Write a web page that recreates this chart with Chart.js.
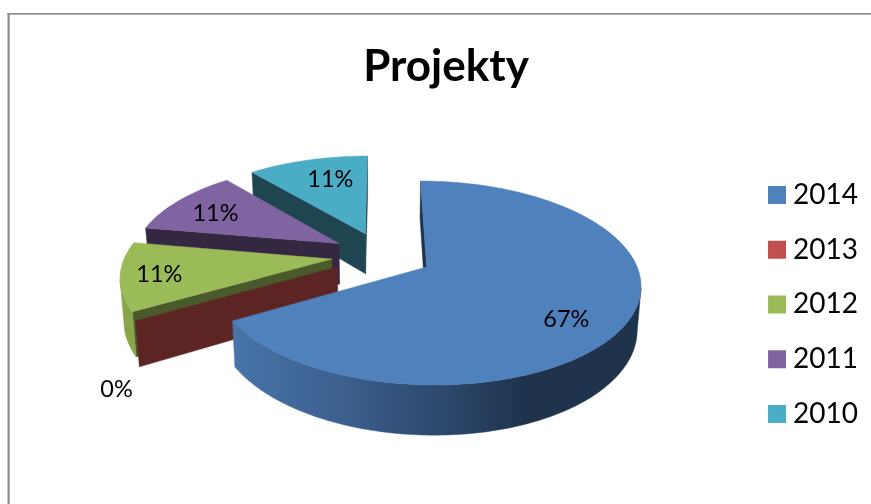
<!DOCTYPE html>
<html>
<head>
<meta charset="utf-8">
<title>Projekty</title>
<style>
  html, body { margin: 0; background: #fff; }
  canvas { display: block; }
</style>
<script src="https://cdn.jsdelivr.net/npm/chart.js@4"></script>
</head>
<body>
<canvas id="myChart" width="871" height="504"></canvas>
<script>
const years = ['2014', '2013', '2012', '2011', '2010']
const projectCounts = [6, 0, 1, 1, 1]
const topColors = ['#4f81bd', '#c0504d', '#9bbb59', '#8064a2', '#4bacc6']
const wallColors = ['#1f3349', '#5c2523', '#4a5a2a', '#342742', '#1f4650']
const rimColors = ['#2f4c70', '#7a3230', '#88a54c', '#5a4672', '#357a8c']

// where the tilted disc sits on the page
const disc = { cx: 382, cy: 255, rx: 206.5, ry: 95.7, k: 0.1545, depth: 41.5, shrink: 0.985 }
// per slice: distance along the middle angle (in radii), then a nudge in px
const labelSpots = [[0.7, 2, 16], [1.1, 3, 63], [0.8, -4, 2], [0.7, -9, 1], [0.7, 7, -1]]

const project = (x, y, lower) => {
  const s = 1 / (1 - disc.k * y)
  const f = lower ? disc.shrink : 1
  return {
    x: disc.cx + disc.rx * x * s * f,
    y: disc.cy + disc.ry * y * s + (lower ? disc.depth * s : 0),
  }
}

const tracePoints = (ctx, pts) => {
  ctx.beginPath()
  pts.forEach((p, i) => i ? ctx.lineTo(p.x, p.y) : ctx.moveTo(p.x, p.y))
  ctx.closePath()
}

const fillPoints = (ctx, pts, color) => {
  tracePoints(ctx, pts)
  ctx.fillStyle = color
  ctx.fill()
  ctx.strokeStyle = color
  ctx.lineWidth = 0.5
  ctx.stroke()
}

// a face can be seen when it looks towards the camera, which sits at (0, 1/k) on the plan
const facesCamera = (x, y, nx, ny) => (0 - x) * nx + (1 / disc.k - y) * ny > 0

const drawSlice = (ctx, arc, index) => {
  const { startAngle, endAngle, outerRadius } = arc
  const mid = (startAngle + endAngle) / 2
  const shift = arc.options.offset / outerRadius
  const ox = Math.cos(mid) * shift
  const oy = Math.sin(mid) * shift
  const rimAt = a => [ox + Math.cos(a), oy + Math.sin(a)]

  const steps = Math.max(2, Math.ceil((endAngle - startAngle) / 0.02))
  const angles = []
  for (let i = 0; i <= steps; i++) angles.push(startAngle + (endAngle - startAngle) * i / steps)

  // flat wall on either cut edge
  const edges = [
    { a: startAngle, nx: Math.sin(startAngle), ny: -Math.cos(startAngle) },
    { a: endAngle, nx: -Math.sin(endAngle), ny: Math.cos(endAngle) },
  ]
  edges.forEach(e => {
    const [ex, ey] = rimAt(e.a)
    if (!facesCamera((ox + ex) / 2, (oy + ey) / 2, e.nx, e.ny)) return
    fillPoints(ctx, [
      project(ox, oy), project(ex, ey),
      project(ex, ey, true), project(ox, oy, true),
    ], wallColors[index])
  })

  // curved rim, only the part turned towards us
  if (endAngle > startAngle) {
    const seen = angles.filter(a => {
      const [x, y] = rimAt(a)
      return facesCamera(x, y, Math.cos(a), Math.sin(a))
    })
    if (seen.length > 1) {
      const upper = seen.map(a => project(...rimAt(a)))
      const lower = seen.map(a => project(...rimAt(a), true)).reverse()
      let paint = rimColors[index]
      if (index === 0) {
        const g = ctx.createLinearGradient(232, 0, 640, 0)
        g.addColorStop(0, '#4874a9')
        g.addColorStop(0.25, '#3d6191')
        g.addColorStop(0.5, '#2d4a6e')
        g.addColorStop(0.72, '#1f334d')
        g.addColorStop(1, '#1f334b')
        paint = g
      }
      fillPoints(ctx, upper.concat(lower), paint)
    }
  }

  // top of the slice
  if (endAngle > startAngle) {
    fillPoints(ctx, [project(ox, oy)].concat(angles.map(a => project(...rimAt(a)))), topColors[index])
  }
}

const pie3d = {
  id: 'pie3d',
  beforeDraw (chart) {
    const { ctx, width, height } = chart
    ctx.save()
    ctx.fillStyle = '#ffffff'
    ctx.fillRect(0, 0, width, height)
    ctx.fillStyle = '#8c8c8c'
    ctx.fillRect(7.5, 13, width, 1.7)
    ctx.fillRect(7.5, 13, 2.2, height)
    ctx.restore()
  },
  beforeDatasetsDraw (chart) {
    const { ctx } = chart
    const arcs = chart.getDatasetMeta(0).data
    const total = projectCounts.reduce((a, b) => a + b, 0)
    ctx.save()
    for (let i = arcs.length - 1; i >= 0; i--) drawSlice(ctx, arcs[i], i)
    ctx.fillStyle = '#000'
    ctx.font = '23.5px Lato'
    ctx.textAlign = 'center'
    ctx.textBaseline = 'middle'
    arcs.forEach((arc, i) => {
      const mid = (arc.startAngle + arc.endAngle) / 2
      const shift = arc.options.offset / arc.outerRadius
      const [f, dx, dy] = labelSpots[i]
      const p = project(Math.cos(mid) * (shift + f), Math.sin(mid) * (shift + f))
      ctx.fillText(Math.round(projectCounts[i] / total * 100) + '%', p.x + dx, p.y + dy)
    })
    ctx.restore()
    return false
  },
}

const pieLegendLabels = Chart.overrides.pie.plugins.legend.labels.generateLabels

var chart = new Chart(document.getElementById('myChart').getContext('2d'), {
  type: 'pie',
  plugins: [pie3d],
  data: {
    labels: years,
    datasets: [{
      data: projectCounts,
      backgroundColor: topColors,
      borderWidth: 0,
      offset: 24.5,
    }],
  },
  options: {
    responsive: false,
    animation: false,
    devicePixelRatio: 1,
    radius: 100,
    layout: { padding: { left: 24, right: 3, top: 0, bottom: 0 } },
    plugins: {
      tooltip: { enabled: false },
      title: {
        display: true,
        text: 'Projekty',
        color: '#000',
        font: { family: 'Lato', size: 44, weight: 'bold', lineHeight: 1.2 },
        padding: { top: 40, bottom: 12 },
      },
      legend: {
        position: 'right',
        fullSize: false,
        labels: {
          color: '#000',
          font: { family: 'Lato', size: 28 },
          padding: 26.75,
          boxWidth: 4,
          boxHeight: 4,
          // thick stroke paints the 18px swatch and keeps the text close to it
          generateLabels (c) {
            return pieLegendLabels(c).map(item => ({
              ...item,
              strokeStyle: item.fillStyle,
              lineWidth: 14,
            }))
          },
        },
      },
    },
  },
})
</script>
</body>
</html>
